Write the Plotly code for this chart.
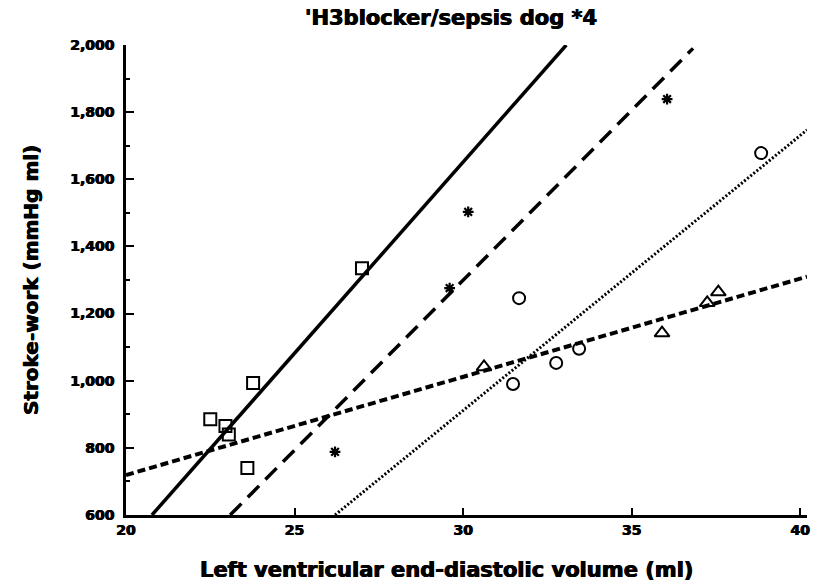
import plotly.graph_objects as go

square_x = [22.5, 22.95, 23.05, 23.6, 23.77, 27.0]
square_y = [885, 865, 840, 740, 993, 1335]

star_x = [26.2, 29.6, 30.15, 36.05]
star_y = [788, 1276, 1503, 1839]

circle_x = [31.48, 31.66, 32.76, 33.44, 38.84]
circle_y = [990, 1246, 1053, 1095, 1678]

triangle_x = [30.62, 35.9, 37.24, 37.57]
triangle_y = [1041, 1142, 1232, 1264]

# regression lines (end points)
solid_x = [20.77, 33.06]
solid_y = [600, 2000]
longdash_x = [23.09, 36.82]
longdash_y = [600, 1990]
dotted_x = [26.2, 40.2]
dotted_y = [600, 1747]
shortdash_x = [20.0, 40.2]
shortdash_y = [719, 1310]

x_ticks = [20, 25, 30, 35, 40]
y_ticks = [600, 800, 1000, 1200, 1400, 1600, 1800, 2000]
y_ticktext = ['600', '800', '1,000', '1,200', '1,400', '1,600', '1,800', '2,000']

FONT = 'DejaVu Sans'
HEAVY = '0.5px 0 0 black, -0.5px 0 0 black'  # fake a heavier weight

fig = go.Figure()

#lines first so markers sit on top
fig.add_trace(go.Scatter(x=solid_x, y=solid_y, mode='lines',
                         line=dict(color='black', width=3.5)))
fig.add_trace(go.Scatter(x=longdash_x, y=longdash_y, mode='lines',
                         line=dict(color='black', width=3.5, dash='16px,9px')))
fig.add_trace(go.Scatter(x=dotted_x, y=dotted_y, mode='lines',
                         line=dict(color='black', width=3, dash='2px,2px')))
fig.add_trace(go.Scatter(x=shortdash_x, y=shortdash_y, mode='lines',
                         line=dict(color='black', width=4, dash='8px,4px')))

fig.add_trace(go.Scatter(x=square_x, y=square_y, mode='markers',
                         marker=dict(symbol='square-open', size=12, color='black',
                                     line=dict(width=2, color='black'))))
fig.add_trace(go.Scatter(x=star_x, y=star_y, mode='markers',
                         marker=dict(symbol='asterisk-open', size=9, color='black',
                                     line=dict(width=2.2, color='black'))))
fig.add_trace(go.Scatter(x=circle_x, y=circle_y, mode='markers',
                         marker=dict(symbol='circle-open', size=12, color='black',
                                     line=dict(width=2, color='black'))))
fig.add_trace(go.Scatter(x=triangle_x, y=triangle_y, mode='markers',
                         marker=dict(symbol='triangle-up-open', size=13, color='black',
                                     line=dict(width=2, color='black'))))

tick_font = dict(family=FONT, size=14, color='black', weight='bold', shadow=HEAVY)

fig.update_xaxes(range=[20, 40.2], tickvals=x_ticks, automargin=False,
                 showline=True, linecolor='black', linewidth=2.5,
                 ticks='inside', ticklen=7, tickwidth=2, tickcolor='black',
                 showgrid=False, zeroline=False, tickfont=tick_font)
fig.update_yaxes(range=[600, 2000], tickvals=y_ticks, ticktext=y_ticktext,
                 automargin=False,
                 showline=True, linecolor='black', linewidth=2.5,
                 ticks='inside', ticklen=8, tickwidth=2, tickcolor='black',
                 ticklabelstandoff=6,
                 minor=dict(dtick=100, ticks='inside', ticklen=4, tickwidth=1.5,
                            tickcolor='black', showgrid=False),
                 showgrid=False, zeroline=False, tickfont=tick_font)

fig.update_layout(
    width=819, height=586,
    margin=dict(l=126, r=12, t=45, b=71),
    plot_bgcolor='white', paper_bgcolor='white',
    showlegend=False,
    annotations=[
        dict(text="'H3blocker/sepsis dog *4", x=(451 - 126) / 681, y=1 + 27 / 470,
             xref='paper', yref='paper', yanchor='middle', showarrow=False,
             font=dict(family=FONT, size=21, color='black', weight='bold', shadow=HEAVY)),
        dict(text='Left ventricular end-diastolic volume (ml)', x=(446 - 126) / 681,
             y=-55 / 470, xref='paper', yref='paper', yanchor='middle', showarrow=False,
             font=dict(family=FONT, size=21, color='black', weight='bold', shadow=HEAVY)),
        dict(text='Stroke-work (mmHg ml)', x=-(126 - 31) / 681, y=0.5,
             xref='paper', yref='paper', xanchor='center', yanchor='middle',
             textangle=-90, showarrow=False,
             font=dict(family=FONT, size=20, color='black', weight='bold', shadow=HEAVY)),
    ],
)

# drop the default page margin so the figure fills the window
fig.write_html('out.html', config={'displayModeBar': False},
               post_script="document.body.style.margin='0';")
